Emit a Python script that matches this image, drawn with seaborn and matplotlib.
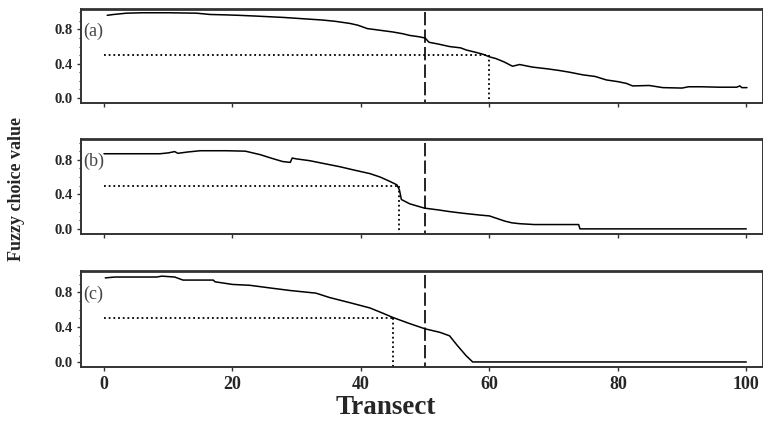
import numpy as np
import pandas as pd
import matplotlib
matplotlib.use("Agg")
import matplotlib.pyplot as plt
import seaborn as sns
from matplotlib.ticker import MultipleLocator

# values
xa = [0.5, 1.5, 3.5, 6, 10, 14.4, 16.5, 19, 21, 24, 28, 31, 34, 36, 38.3, 39.5, 41, 43, 45, 46.5,
      47.6, 49, 50, 50.6, 52, 53.8, 55.5, 56.4, 58, 59, 60, 61, 62.3, 63.6, 64.7, 66.7, 69, 70.9, 72.5, 74.5,
      76.5, 78.2, 80, 81.3, 82.3, 84.9, 87, 90, 91, 93, 95.8, 98.5, 99, 99.3, 100.1]
ya = [0.965, 0.975, 0.99, 0.995, 0.995, 0.99, 0.975, 0.97, 0.965, 0.955, 0.94, 0.925, 0.91, 0.895, 0.87, 0.85, 0.81, 0.79, 0.77, 0.75,
      0.73, 0.715, 0.70, 0.65, 0.63, 0.60, 0.585, 0.56, 0.53, 0.51, 0.48, 0.46, 0.42, 0.37, 0.39, 0.36, 0.34, 0.32, 0.30, 0.27,
      0.25, 0.21, 0.19, 0.17, 0.14, 0.145, 0.12, 0.115, 0.13, 0.13, 0.125, 0.125, 0.14, 0.12, 0.12]

xb = [0, 8.7, 10, 11, 11.5, 13, 15, 19, 22, 24.3, 26, 27.8, 29, 29.3, 30, 32, 34, 36.7, 39, 41.4,
      43, 44.5, 45.6, 46, 46.3, 47.6, 49.9, 52, 53.8, 56, 58.5, 60, 61.2, 62.4, 63.5, 64.7, 67, 70.9, 73.9, 74.1, 100]
yb = [0.87, 0.87, 0.88, 0.895, 0.875, 0.89, 0.905, 0.905, 0.9, 0.86, 0.82, 0.78, 0.77, 0.82, 0.81, 0.79, 0.76, 0.72, 0.68, 0.64,
      0.6, 0.55, 0.51, 0.45, 0.34, 0.29, 0.24, 0.22, 0.2, 0.18, 0.16, 0.15, 0.12, 0.09, 0.07, 0.06, 0.05, 0.05, 0.05, 0.0, 0.0]

xc = [0.2, 1.7, 8.2, 9, 11, 12.3, 17, 17.3, 20, 22.7, 25.8, 29, 33, 35.1, 38.3, 41.4, 43.4, 45, 47.6, 50,
      52.3, 53.8, 55, 56.4, 57.4, 100]
yc = [0.965, 0.975, 0.975, 0.985, 0.975, 0.94, 0.94, 0.92, 0.89, 0.88, 0.85, 0.82, 0.79, 0.74, 0.68, 0.62, 0.56, 0.51, 0.44, 0.38,
      0.34, 0.3, 0.19, 0.07, 0.0, 0.0]

panel_labels = ["(a)", "(b)", "(c)"]
cut_x = [60, 46, 45]      # where each curve crosses 0.5
threshold = 0.5
boundary = 50
yticks = [0.0, 0.4, 0.8]
xticks = [0, 20, 40, 60, 80, 100]

sns.set_theme(style="ticks")
plt.rcParams["font.family"] = ["Liberation Serif", "DejaVu Serif"]

fig = plt.figure(figsize=(7.63, 4.24), dpi=100, facecolor="white")
# [left, bottom, width, height] in figure fractions
boxes = [[0.106, 0.757, 0.894, 0.222],
         [0.106, 0.448, 0.894, 0.224],
         [0.106, 0.134, 0.894, 0.226]]

series = [(xa, ya), (xb, yb), (xc, yc)]
for i, (xs, ys) in enumerate(series):
    ax = fig.add_axes(boxes[i])
    df = pd.DataFrame({"Transect": xs, "value": ys})
    sns.lineplot(data=df, x="Transect", y="value", ax=ax, color="black", lw=1.1)
    ax.plot([0, cut_x[i]], [threshold, threshold], ls=(0, (1, 1.6)), color="black", lw=1.3)
    ax.plot([cut_x[i], cut_x[i]], [threshold, -0.06], ls=(0, (1, 1.6)), color="black", lw=1.3)
    ax.plot([boundary, boundary], [1.0, -0.06], ls=(0, (8, 2.5)), color="black", lw=1.2)
    ax.set_xlim(-3.6, 102.6)
    ax.set_ylim(-0.06, 1.04)
    ax.set_yticks(yticks)
    ax.set_yticklabels(["%.1f" % v for v in yticks], fontweight="bold", fontsize=10.5)
    ax.yaxis.set_minor_locator(MultipleLocator(0.1))
    ax.set_xticks(xticks)
    ax.tick_params(axis="both", which="major", length=3, width=1, color="#333333", pad=3)
    ax.tick_params(axis="y", which="minor", length=1.5, width=0.8, color="#333333")
    ax.set_xlabel("")
    ax.set_ylabel("")
    for s in ax.spines.values():
        s.set_linewidth(1.4)
        s.set_color("#333333")
    ax.spines["top"].set_linewidth(2.0)
    # panel tag sits just inside the left spine, level with the 0.8 tick
    ax.text(0.003, 0.78, panel_labels[i], transform=ax.get_yaxis_transform(),
            fontsize=13, color="#444444", va="center", ha="left")
    if i < 2:
        ax.set_xticklabels([])
    else:
        ax.set_xticklabels([str(t) for t in xticks], fontweight="bold", fontsize=13)

fig.text(0.505, 0.038, "Transect", ha="center", va="center", fontsize=19.5, fontweight="bold")
fig.text(0.022, 0.555, "Fuzzy choice value", ha="center", va="center", rotation=90,
         fontsize=13, fontweight="bold")

fig.savefig("out.png", dpi=100, facecolor="white")
